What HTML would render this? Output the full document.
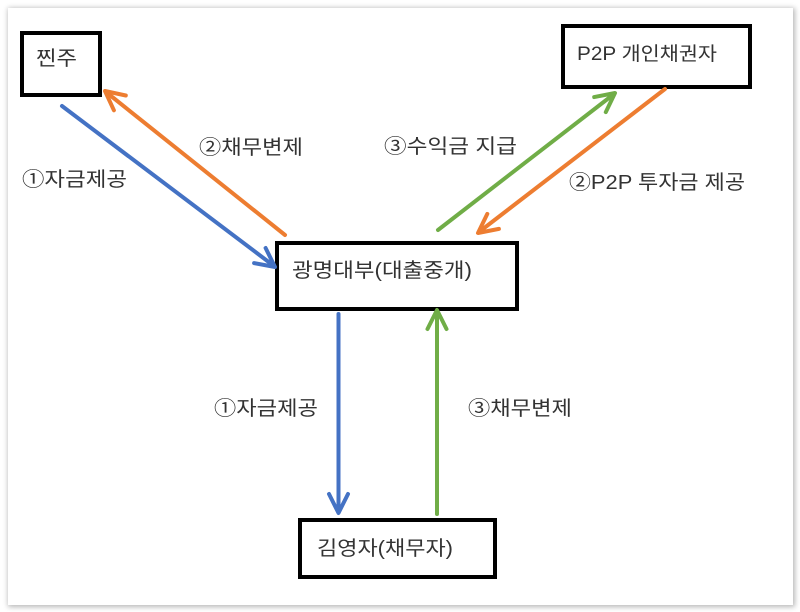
<!DOCTYPE html>
<html>
<head>
<meta charset="utf-8">
<style>
  html, body { margin: 0; padding: 0; background: #ffffff; }
  body { width: 800px; height: 612px; position: relative; overflow: hidden; }
  .frame {
    position: absolute; left: 8px; top: 8px; width: 785px; height: 597px;
    background: #ffffff;
    box-shadow: 1px 1px 5px 1px rgba(0,0,0,0.28);
  }
  svg { position: absolute; left: 0; top: 0; }
  text {
    font-family: "Liberation Sans", "Noto Sans CJK KR", "NanumGothic", sans-serif;
    fill: #333333;
  }
</style>
</head>
<body>
<div class="frame"></div>
<svg width="800" height="612" viewBox="0 0 800 612" xmlns="http://www.w3.org/2000/svg">
  <!-- Boxes -->
  <g fill="none" stroke="#000" stroke-width="4">
    <rect x="22" y="33" width="78" height="62"/>
    <rect x="563" y="26" width="187" height="61"/>
    <rect x="277" y="243" width="240" height="66"/>
    <rect x="300" y="520" width="195" height="57"/>
  </g>

  <!-- Arrows -->
  <g fill="none" stroke-width="4" stroke-linecap="round" stroke-linejoin="round">
    <g stroke="#4472C4">
      <line x1="62" y1="106" x2="274" y2="266"/>
      <polyline points="254.1,263.1 275,267 265.6,248.0"/>
    </g>
    <g stroke="#ED7D31">
      <line x1="285" y1="235" x2="106" y2="92"/>
      <polyline points="125.8,95.5 105,91 113.9,110.3"/>
    </g>
    <g stroke="#70AD47">
      <line x1="438" y1="230" x2="614" y2="94"/>
      <polyline points="605.8,112.1 615,93 594.2,97.1"/>
    </g>
    <g stroke="#ED7D31">
      <line x1="665" y1="89" x2="479" y2="232"/>
      <polyline points="487.3,213.9 478,233 498.9,228.9"/>
    </g>
    <g stroke="#4472C4">
      <line x1="338.5" y1="314" x2="338.5" y2="512"/>
      <polyline points="329,494 338.5,513 348,494"/>
    </g>
    <g stroke="#70AD47">
      <line x1="437" y1="514" x2="437" y2="311"/>
      <polyline points="427.5,329 437,310 446.5,329"/>
    </g>
  </g>

  <!-- Node labels -->
  <text x="36" y="65" font-size="20" textLength="41" lengthAdjust="spacingAndGlyphs">찐주</text>
  <text x="577" y="60" font-size="19" textLength="140" lengthAdjust="spacingAndGlyphs">P2P 개인채권자</text>
  <text x="292" y="277" font-size="20" textLength="180" lengthAdjust="spacingAndGlyphs">광명대부(대출중개)</text>
  <text x="317" y="555" font-size="20" textLength="136" lengthAdjust="spacingAndGlyphs">김영자(채무자)</text>

  <!-- Connector labels -->
  <text x="22" y="186" font-size="20" textLength="105" lengthAdjust="spacingAndGlyphs">①자금제공</text>
  <text x="199" y="154" font-size="20" textLength="104" lengthAdjust="spacingAndGlyphs">②채무변제</text>
  <text x="384" y="153" font-size="20" textLength="133" lengthAdjust="spacingAndGlyphs">③수익금 지급</text>
  <text x="569" y="189" font-size="20" textLength="176" lengthAdjust="spacingAndGlyphs">②P2P 투자금 제공</text>
  <text x="214" y="415" font-size="20" textLength="104" lengthAdjust="spacingAndGlyphs">①자금제공</text>
  <text x="468" y="415" font-size="20" textLength="104" lengthAdjust="spacingAndGlyphs">③채무변제</text>
</svg>
</body>
</html>
